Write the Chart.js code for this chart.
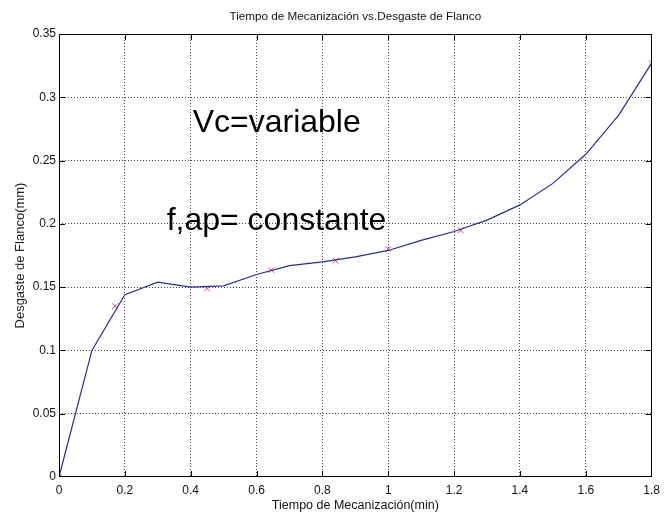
<!DOCTYPE html>
<html>
<head>
<meta charset="utf-8">
<script src="https://cdn.jsdelivr.net/npm/chart.js@4.4.1/dist/chart.umd.min.js"></script>
<style>
  body { margin: 0; background: #fff; }
  #wrap { width: 666px; height: 523px; }
</style>
</head>
<body>
<div id="wrap"><canvas id="chart" width="666" height="523"></canvas></div>
<script>
// interpolated curve (blue line)
const curveX = [0, 0.1, 0.2, 0.3, 0.4, 0.5, 0.6, 0.7, 0.8, 0.9, 1.0, 1.1, 1.2, 1.3, 1.4, 1.5, 1.6, 1.7, 1.8];
const curveY = [0, 0.1, 0.144, 0.154, 0.150, 0.151, 0.160, 0.167, 0.170, 0.174, 0.179, 0.187, 0.194, 0.203, 0.215, 0.232, 0.255, 0.286, 0.327];

// measured points (red x)
const measX = [0, 0.17, 0.45, 0.645, 0.84, 1.0, 1.22, 1.8];
const measY = [0, 0.135, 0.149, 0.1635, 0.171, 0.18, 0.195, 0.327];

const xTicks = [0, 0.2, 0.4, 0.6, 0.8, 1, 1.2, 1.4, 1.6, 1.8];
const yTicks = [0, 0.05, 0.1, 0.15, 0.2, 0.25, 0.3, 0.35];

const sans = '"Liberation Sans", Arial, sans-serif';

const fmt = v => String(+v.toFixed(2));

// box, inward ticks and the two text notes
const frame = {
  id: 'frame',
  afterDraw(chart) {
    const { ctx, chartArea: a, scales: { x, y } } = chart;
    ctx.save();
    ctx.setLineDash([]);
    ctx.strokeStyle = '#000';
    ctx.lineWidth = 1;
    ctx.strokeRect(Math.round(a.left) + 0.5, Math.round(a.top) + 0.5,
      Math.round(a.right - a.left) - 1, Math.round(a.bottom - a.top) - 1);
    ctx.beginPath();
    xTicks.slice(1, -1).forEach(v => {
      const px = Math.round(x.getPixelForValue(v)) + 0.5;
      ctx.moveTo(px, a.bottom); ctx.lineTo(px, a.bottom - 6);
      ctx.moveTo(px, a.top); ctx.lineTo(px, a.top + 6);
    });
    yTicks.slice(1, -1).forEach(v => {
      const py = Math.round(y.getPixelForValue(v)) + 0.5;
      ctx.moveTo(a.left, py); ctx.lineTo(a.left + 6, py);
      ctx.moveTo(a.right, py); ctx.lineTo(a.right - 6, py);
    });
    ctx.stroke();

    ctx.fillStyle = '#000';
    ctx.font = '32px ' + sans;
    ctx.textBaseline = 'alphabetic';
    ctx.fillText('Vc=variable', x.getPixelForValue(0.406), y.getPixelForValue(0.2727));
    ctx.fillText('f,ap= constante', x.getPixelForValue(0.327), y.getPixelForValue(0.195));
    ctx.restore();
  }
};

const gridColor = (c, max) => (c.tick.value <= 0 || c.tick.value >= max) ? 'rgba(0,0,0,0)' : '#444';

new Chart(document.getElementById('chart'), {
  type: 'scatter',
  data: {
    datasets: [
      {
        type: 'line',
        data: curveX.map((v, i) => ({ x: v, y: curveY[i] })),
        borderColor: '#2c2c8e',
        borderWidth: 1.2,
        pointRadius: 0,
        tension: 0,
        fill: false
      },
      {
        data: measX.map((v, i) => ({ x: v, y: measY[i] })),
        pointStyle: 'crossRot',
        pointRadius: 4,
        borderColor: '#d0406a',
        borderWidth: 1,
        showLine: false
      }
    ]
  },
  options: {
    responsive: false,
    animation: false,
    layout: { padding: { left: 0, right: 12, top: 0, bottom: 0 } },
    plugins: {
      legend: { display: false },
      tooltip: { enabled: false },
      title: {
        display: true,
        fullSize: false,
        text: 'Tiempo de Mecanización vs.Desgaste de Flanco',
        color: '#111',
        font: { family: sans, size: 11.7, weight: 'normal' },
        padding: { top: 10, bottom: 10 }
      }
    },
    scales: {
      x: {
        type: 'linear',
        min: 0, max: 1.8,
        afterBuildTicks: s => { s.ticks = xTicks.map(v => ({ value: v })); },
        afterFit: s => { s.height = 46; },
        ticks: {
          callback: v => fmt(v),
          color: '#111',
          font: { family: sans, size: 12 },
          padding: 6,
          maxRotation: 0,
          autoSkip: false
        },
        grid: { drawTicks: false, color: c => gridColor(c, 1.8), lineWidth: 1 },
        border: { display: false, dash: [1, 2] },
        title: {
          display: true,
          text: 'Tiempo de Mecanización(min)',
          color: '#111',
          font: { family: sans, size: 12.5 },
          padding: { top: 0, bottom: 10 }
        }
      },
      y: {
        type: 'linear',
        min: 0, max: 0.35,
        afterBuildTicks: s => { s.ticks = yTicks.map(v => ({ value: v })); },
        afterFit: s => { s.width = 59; },
        ticks: {
          callback: v => fmt(v),
          color: '#111',
          font: { family: sans, size: 12 },
          padding: 3,
          autoSkip: false
        },
        grid: { drawTicks: false, color: c => gridColor(c, 0.35), lineWidth: 1 },
        border: { display: false, dash: [1, 2] },
        title: {
          display: true,
          text: 'Desgaste de Flanco(mm)',
          color: '#222',
          font: { family: sans, size: 13 },
          padding: { top: 13, bottom: 0 }
        }
      }
    }
  },
  plugins: [frame]
});
</script>
</body>
</html>
